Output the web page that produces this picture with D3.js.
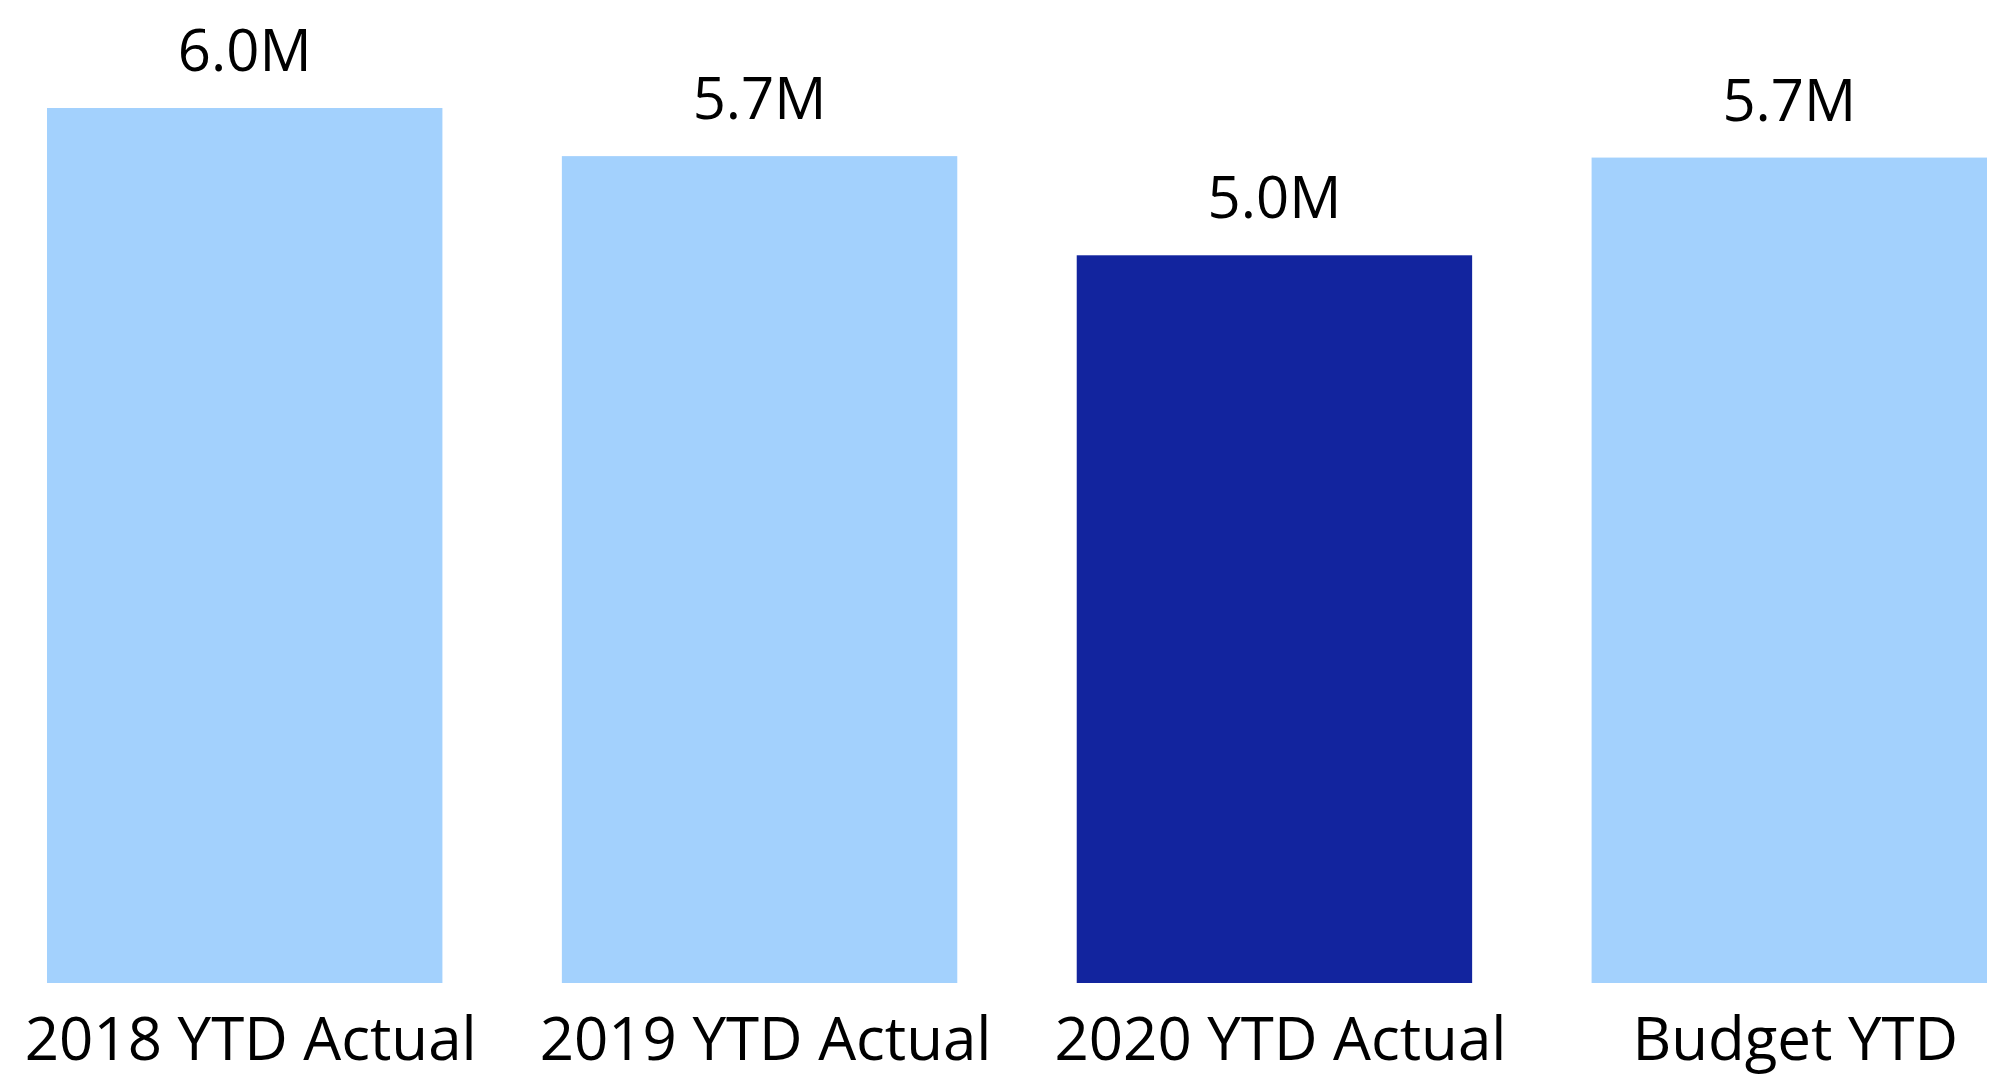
<!DOCTYPE html>
<html>
<head>
<meta charset="utf-8">
<script src="https://cdn.jsdelivr.net/npm/d3@7"></script>
<style>
  html, body { margin: 0; padding: 0; background: #ffffff; }
  svg { display: block; }
</style>
</head>
<body>
<svg id="chart" width="1998" height="1082"></svg>
<script>
// YTD totals, in millions
const categories = ["2018 YTD Actual", "2019 YTD Actual", "2020 YTD Actual", "Budget YTD"];
const values = [6.00, 5.67, 4.99, 5.66];
const highlight = ["2020 YTD Actual"];

const width = 1998, height = 1082;
const svg = d3.select("#chart");

const x = d3.scaleBand()
  .domain(categories)
  .range([47, 1987])
  .paddingInner(0.232)
  .paddingOuter(0);

const y = d3.scaleLinear()
  .domain([0, 6.0])
  .range([983, 108]);

const data = categories.map((c, i) => ({ cat: c, value: values[i] }));
const fontFamily = "'Open Sans', 'Noto Sans', sans-serif";

svg.append("g")
  .selectAll("rect")
  .data(data)
  .join("rect")
  .attr("x", d => x(d.cat))
  .attr("y", d => y(d.value))
  .attr("width", x.bandwidth())
  .attr("height", d => y(0) - y(d.value))
  .attr("fill", d => highlight.includes(d.cat) ? "#12249e" : "#a3d1fd");

// value labels above each bar
svg.append("g")
  .selectAll("text")
  .data(data)
  .join("text")
  .attr("x", d => x(d.cat) + x.bandwidth() / 2)
  .attr("y", d => y(d.value) - 37)
  .attr("text-anchor", "middle")
  .attr("font-family", fontFamily)
  .attr("font-size", 58)
  .attr("fill", "#000")
  .text(d => d3.format(".1f")(d.value) + "M");

// category axis, no line or ticks
const xAxis = svg.append("g")
  .attr("transform", `translate(6, ${y(0)})`)
  .call(d3.axisBottom(x).tickSize(0).tickPadding(0));
xAxis.select(".domain").remove();
xAxis.selectAll("text")
  .attr("dy", null)
  .attr("y", 77)
  .attr("font-family", fontFamily)
  .attr("font-size", 60)
  .attr("fill", "#000");
</script>
</body>
</html>
